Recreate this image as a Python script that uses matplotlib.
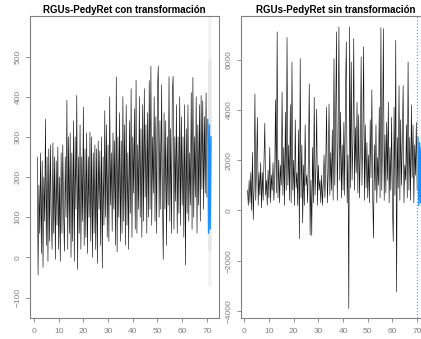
import numpy as np
import matplotlib.pyplot as plt

plt.rcParams['font.family'] = ['Liberation Sans', 'DejaVu Sans']

# ts: frequency 3, start at 1 + 1/3
freq = 3
start = 1 + 1 / 3

# serie con transformacion
con_trans = [
    250, -44, 180, 60, 260, 10, 240, -25, 200, 90, 344, 30, 250, -10, 270,
    40, 280, 100, 20, 285, 60, 250, -5, 240, 80, 275, 20, 200, -10, 260,
    60, 280, 110, 15, 250, 100, 391, 20, 300, 60, 310, 0, 260, 40, 340,
    -10, 300, 120, 403, -30, 250, 60, 330, 20, 250, 90, 374, 30, 270, 50,
    310, 10, 250, 100, 312, 40, 300, 0, 260, 60, 280, 20, 270, -15, 290,
    120, 265, 30, 300, -27, 250, 80, 365, 100, 330, 50, 280, 40, 400, 130,
    260, 65, 310, 120, 290, 30, 449, 14, 300, 100, 360, 40, 290, 60, 400,
    90, 330, 30, 380, 80, 260, 20, 340, 110, 420, 50, 300, 160, 370, 70,
    441, 60, 280, 120, 400, 100, 320, 50, 380, 90, 420, 150, 330, 60, 360,
    100, 440, 120, 476, 80, 300, 160, 400, 90, 350, 60, 420, 476, 100, 340,
    120, 430, 150, -5, 360, 120, 340, 30, 300, 130, 450, 90, 320, 60, 410,
    451, 70, 300, 140, 380, 60, 300, 110, 400, 80, 350, 130, 300, 50, 380,
    -19, 320, 110, 380, 90, 260, 130, 410, 70, 448, 100, 300, 150, 400, 60,
    330, 130, 380, 90, 403, 170, 390, 120, 350, 160, 410, 150,
]

# serie sin transformacion
sin_trans = [
    800, 200, 1200, 300, 1500, 0, 2300, -370, 900, 4630, 400, 1800, 3700, 200, 1500,
    600, 1900, 100, 1500, 400, 2000, 3460, 600, 1200, 200, 1600, 500, 2500, 300, 1400,
    800, 1900, 400, 1200, 4400, 700, 7100, 500, 2000, 300, 1800, 1000, 4700, 600, 2500,
    200, 3900, 800, 6870, 1000, 2600, 400, 4200, 300, 5900, 800, 2000, 200, 3600, 900,
    1500, 200, 3200, -1130, 6030, 500, 2600, -500, 1800, 200, 3400, 1000, 1400, 300, 2200,
    5030, -970, 1200, -1000, 2500, 300, 4500, 600, 1600, 4030, 200, 1800, 800, 1200, 300,
    1400, 200, 1100, 2200, 500, 1800, 4100, 300, 1500, 4230, 600, 2300, 800, 3200, 400,
    6030, 1000, 3500, 7100, 400, 2800, 7300, 1200, 3900, 500, 2600, 800, 3500, 600, 4800,
    6700, 300, 2200, -3900, 7300, 900, 5900, 1200, 2700, 6830, 800, 3300, 1500, 4300, 700,
    3800, 500, 2400, 6100, 1000, 2900, 6500, 400, 3400, 900, 2700, 500, 2200, 300, 3600,
    1300, 4800, 600, -1100, 2600, 800, 3400, 300, 2100, 1000, 4100, 500, 7270, 800, 2900,
    7230, 400, 3000, 700, 3500, 1200, 4300, 300, 2500, 800, 3700, 200, -1240, 4100, 600,
    6760, -3240, 2900, 900, 4960, 400, 3600, 1000, 2800, 4960, 300, 1800, 1200, 3400, 500,
    5900, 800, 2900, 400, 4200, 1300, 3400, 300, 2600, 1400, 3500, 800,
]

# pronosticos
fc_con = [343, 60, 330, 70, 300]
lo80_con = [30, 10, 20, 15, 25]
hi80_con = [480, 500, 490, 500, 495]
lo95_con = [-60, -80, -70, -75, -65]
hi95_con = [650, 660, 640, 670, 650]
fc_sin = [2900, 200, 2700, 300, 2500]

t_con = start + np.arange(len(con_trans)) / freq
t_sin = start + np.arange(len(sin_trans)) / freq
t_fc = t_con[-1] + (np.arange(len(fc_con)) + 1) / freq

fig = plt.figure(figsize=(4.21, 3.39), dpi=100)
ax1 = fig.add_axes([30 / 421, 21 / 339, 189 / 421, 302 / 339])
ax2 = fig.add_axes([241 / 421, 21 / 339, 188.5 / 421, 302 / 339])

ax1.fill_between(t_fc, lo95_con, hi95_con, color='#f2f2f2', lw=0)
ax1.fill_between(t_fc, lo80_con, hi80_con, color='#e6e6e6', lw=0)
ax1.plot(t_con, con_trans, color='#111111', lw=0.45)
ax1.plot(t_fc, fc_con, color='#1e90ff', lw=1.0)

ax2.plot(t_sin, sin_trans, color='#111111', lw=0.45)
ax2.plot(t_fc, fc_sin, color='#1e90ff', lw=1.0)
ax2.axvline(70, color='#40b0ff', lw=0.9, ls=(0, (1, 1.5)))

def estilo(ax, title, ylim, yticks):
    ax.set_xlim(-1.6, 74.9)
    ax.set_ylim(*ylim)
    ax.set_xticks(range(0, 80, 10))
    ax.set_yticks(yticks)
    for s in ax.spines.values():
        s.set_color('#808080')
        s.set_linewidth(0.8)
    ax.tick_params(colors='#808080', labelcolor='#808080', labelsize=6,
                   length=3, width=0.6)
    ax.tick_params(axis='x', pad=4)
    ax.tick_params(axis='y', pad=3)
    for lab in ax.get_yticklabels():
        lab.set_rotation(90)
        lab.set_va('center')
    ax.set_title(title, fontsize=7, fontweight='bold', pad=2)

estilo(ax1, 'RGUs-PedyRet con transformación', (-151, 601),
       [-100, 0, 100, 200, 300, 400, 500])
estilo(ax2, 'RGUs-PedyRet sin transformación', (-4280, 7730),
       [-4000, -2000, 0, 2000, 4000, 6000])
ax2.set_xlim(-1.3, 75)

fig.savefig('out.png', dpi=100)
